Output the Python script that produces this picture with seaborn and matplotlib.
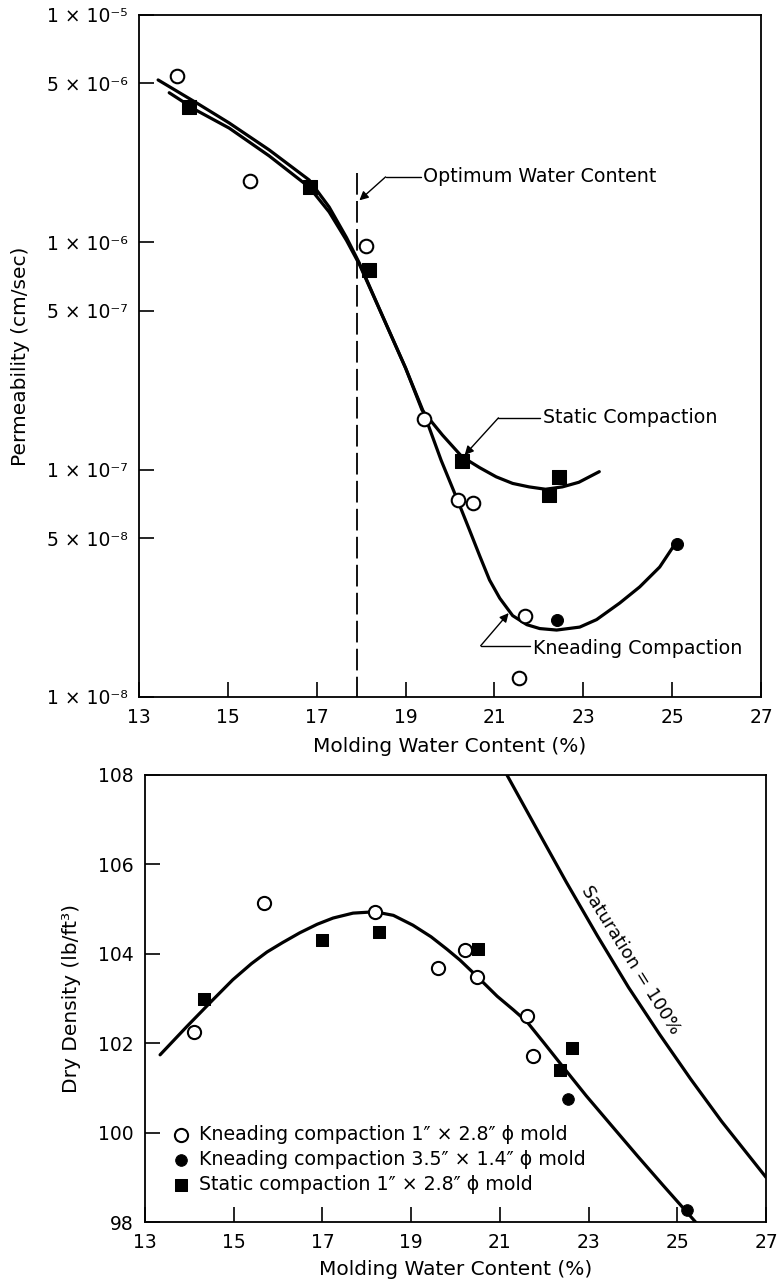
import matplotlib
matplotlib.use("Agg")
import matplotlib.pyplot as plt
import seaborn as sns

# ---------------- data: top panel (permeability) ----------------
water_ticks = [13, 15, 17, 19, 21, 23, 25, 27]
perm_ticks = [1e-8, 5e-8, 1e-7, 5e-7, 1e-6, 5e-6, 1e-5]
perm_tick_labels = ["1 × 10⁻⁸", "5 × 10⁻⁸", "1 × 10⁻⁷", "5 × 10⁻⁷",
                    "1 × 10⁻⁶", "5 × 10⁻⁶", "1 × 10⁻⁵"]

knead_open_w = [13.86, 15.5, 18.11, 19.42, 20.18, 20.52, 21.69, 21.56]
knead_open_k = [5.4e-6, 1.86e-6, 9.6e-7, 1.67e-7, 7.35e-8, 7.1e-8, 2.27e-8, 1.21e-8]
knead_fill_w = [22.41, 25.12]
knead_fill_k = [2.18e-8, 4.7e-8]
static_w = [14.13, 16.85, 18.18, 20.27, 22.23, 22.46]
static_k = [3.94e-6, 1.76e-6, 7.55e-7, 1.09e-7, 7.7e-8, 9.3e-8]

knead_curve_w = [13.43, 14.3, 15.03, 15.93, 16.83, 17.28, 17.67, 17.96, 18.5, 19.0,
                 19.4, 19.8, 20.2, 20.44, 20.67, 20.89, 21.12, 21.41, 21.73, 22.02,
                 22.4, 22.92, 23.3, 23.82, 24.27, 24.72, 25.02]
knead_curve_k = [5.18e-6, 4.1e-6, 3.35e-6, 2.55e-6, 1.88e-6, 1.43e-6, 1.05e-6, 8.1e-7,
                 4.65e-7, 2.8e-7, 1.8e-7, 1.1e-7, 7.1e-8, 5.42e-8, 4.17e-8, 3.27e-8,
                 2.72e-8, 2.28e-8, 2.08e-8, 2.0e-8, 1.97e-8, 2.03e-8, 2.19e-8,
                 2.59e-8, 3.05e-8, 3.73e-8, 4.57e-8]
static_curve_w = [13.68, 14.3, 15.03, 15.93, 16.83, 17.28, 17.67, 17.96, 18.5, 19.0,
                  19.37, 19.83, 20.27, 20.67, 21.04, 21.41, 21.78, 22.15, 22.53, 22.9,
                  23.36]
static_curve_k = [4.55e-6, 3.8e-6, 3.18e-6, 2.4e-6, 1.75e-6, 1.36e-6, 1.02e-6, 8.0e-7,
                  4.65e-7, 2.8e-7, 1.83e-7, 1.42e-7, 1.14e-7, 1.02e-7, 9.3e-8, 8.7e-8,
                  8.4e-8, 8.2e-8, 8.4e-8, 8.8e-8, 9.8e-8]
optimum_w = 17.9
optimum_k = [2.02e-6, 1e-8]

# ---------------- data: bottom panel (dry density) ----------------
density_ticks = [98, 100, 102, 104, 106, 108]
b_knead_open_w = [14.1, 15.68, 18.18, 19.6, 20.21, 20.48, 21.61, 21.75]
b_knead_open_d = [102.25, 105.14, 104.94, 103.68, 104.09, 103.48, 102.6, 101.71]
b_knead_fill_w = [22.54, 25.22]
b_knead_fill_d = [100.75, 98.27]
b_static_w = [14.33, 16.99, 18.28, 20.51, 22.36, 22.63]
b_static_d = [102.99, 104.31, 104.49, 104.1, 101.4, 101.89]

comp_curve_w = [13.34, 13.95, 14.53, 14.98, 15.4, 15.75, 16.1, 16.49, 16.88, 17.24,
                17.69, 18.18, 18.6, 19.04, 19.45, 19.81, 20.1, 20.48, 20.94, 21.3,
                21.61, 22.0, 22.36, 22.95, 23.55, 24.1, 24.68, 25.1, 25.5]
comp_curve_d = [101.74, 102.38, 102.97, 103.42, 103.78, 104.04, 104.25, 104.47, 104.66,
                104.8, 104.91, 104.94, 104.86, 104.64, 104.38, 104.1, 103.86, 103.5,
                103.05, 102.75, 102.48, 102.0, 101.55, 100.82, 100.12, 99.48, 98.82,
                98.35, 97.9]
sat_curve_w = [21.16, 21.8, 22.5, 23.2, 23.9, 24.6, 25.3, 26.0, 27.0]
sat_curve_d = [108.0, 106.85, 105.6, 104.4, 103.25, 102.2, 101.2, 100.25, 99.0]

legend_labels = ["Kneading compaction 1″ × 2.8″ ϕ mold",
                 "Kneading compaction 3.5″ × 1.4″ ϕ mold",
                 "Static compaction 1″ × 2.8″ ϕ mold"]

# ---------------- style ----------------
sns.set_theme(style="ticks")
plt.rcParams["font.family"] = ["DejaVu Sans"]
for key in ["text.color", "axes.labelcolor", "xtick.color", "ytick.color",
            "axes.edgecolor"]:
    plt.rcParams[key] = "black"
plt.rcParams["axes.linewidth"] = 1.3

W, H = 780, 1285
fig = plt.figure(figsize=(W / 100, H / 100), dpi=100)
ax1 = fig.add_axes([139 / W, 1 - 697 / H, (761 - 139) / W, (697 - 15) / H])
ax2 = fig.add_axes([145 / W, 1 - 1222 / H, (766 - 145) / W, (1222 - 775) / H])

TICK_FS = 13.5
LAB_FS = 14.5
ANN_FS = 13.7
CURVE_LW = 2.3


def style_axes(ax):
    for s in ax.spines.values():
        s.set_visible(True)
        s.set_color("black")
        s.set_linewidth(1.3)
    ax.tick_params(axis="both", which="major", direction="in", length=11,
                   width=1.2, labelsize=TICK_FS, pad=8, colors="black")
    ax.tick_params(axis="both", which="minor", length=0)
    ax.grid(False)
    ax.set_facecolor("white")


# ---------- top panel ----------
ax1.set_yscale("log")
sns.lineplot(x=knead_curve_w, y=knead_curve_k, sort=False, estimator=None,
             color="black", lw=CURVE_LW, ax=ax1, zorder=2)
sns.lineplot(x=static_curve_w, y=static_curve_k, sort=False, estimator=None,
             color="black", lw=CURVE_LW, ax=ax1, zorder=2)
ax1.plot([optimum_w, optimum_w], optimum_k, color="black", lw=1.3,
         ls=(0, (12, 3.5)), zorder=1)

sns.scatterplot(x=knead_open_w, y=knead_open_k, marker="o", s=95,
                facecolor="white", edgecolor="black", linewidth=1.5, ax=ax1, zorder=4)
sns.scatterplot(x=knead_fill_w, y=knead_fill_k, marker="o", s=75,
                color="black", edgecolor="black", ax=ax1, zorder=4)
sns.scatterplot(x=static_w, y=static_k, marker="s", s=90,
                color="black", edgecolor="black", ax=ax1, zorder=4)

ax1.set_xlim(13, 27)
ax1.set_ylim(1e-8, 1e-5)
ax1.set_xticks(water_ticks)
ax1.set_xticklabels([str(t) for t in water_ticks])
ax1.set_yticks(perm_ticks)
ax1.set_yticklabels(perm_tick_labels)
ax1.yaxis.set_minor_locator(matplotlib.ticker.NullLocator())
style_axes(ax1)
ax1.set_xlabel("Molding Water Content (%)", fontsize=LAB_FS)
ax1.set_ylabel("Permeability (cm/sec)", fontsize=LAB_FS)
ax1.xaxis.set_label_coords(0.5, -0.058)
ax1.yaxis.set_label_coords(-0.175, 0.5)

arrow_kw = dict(arrowstyle="-|>", color="black", lw=1.0, mutation_scale=13,
                shrinkA=0, shrinkB=0)
# Optimum water content
ax1.plot([18.55, 19.35], [1.94e-6, 1.94e-6], color="black", lw=1.0)
ax1.annotate("", xy=(17.96, 1.53e-6), xytext=(18.55, 1.94e-6), arrowprops=arrow_kw)
ax1.text(19.4, 1.94e-6, "Optimum Water Content", fontsize=ANN_FS,
         ha="left", va="center")
# Static compaction
ax1.plot([21.09, 22.02], [1.69e-7, 1.69e-7], color="black", lw=1.0)
ax1.annotate("", xy=(20.33, 1.16e-7), xytext=(21.09, 1.69e-7), arrowprops=arrow_kw)
ax1.text(22.09, 1.69e-7, "Static Compaction", fontsize=ANN_FS,
         ha="left", va="center")
# Kneading compaction
ax1.plot([20.69, 21.8], [1.68e-8, 1.68e-8], color="black", lw=1.0)
ax1.annotate("", xy=(21.32, 2.34e-8), xytext=(20.69, 1.68e-8), arrowprops=arrow_kw)
ax1.text(21.86, 1.64e-8, "Kneading Compaction", fontsize=ANN_FS,
         ha="left", va="center")

# ---------- bottom panel ----------
sns.lineplot(x=comp_curve_w, y=comp_curve_d, sort=False, estimator=None,
             color="black", lw=CURVE_LW, ax=ax2, zorder=2)
sns.lineplot(x=sat_curve_w, y=sat_curve_d, sort=False, estimator=None,
             color="black", lw=CURVE_LW, ax=ax2, zorder=2)
sns.scatterplot(x=b_knead_open_w, y=b_knead_open_d, marker="o", s=90,
                facecolor="white", edgecolor="black", linewidth=1.5, ax=ax2,
                zorder=4, label=legend_labels[0])
sns.scatterplot(x=b_knead_fill_w, y=b_knead_fill_d, marker="o", s=70,
                color="black", edgecolor="black", ax=ax2, zorder=4,
                label=legend_labels[1])
sns.scatterplot(x=b_static_w, y=b_static_d, marker="s", s=85,
                color="black", edgecolor="black", ax=ax2, zorder=4,
                label=legend_labels[2])

ax2.set_xlim(13, 27)
ax2.set_ylim(98, 108)
ax2.set_xticks(water_ticks)
ax2.set_xticklabels([str(t) for t in water_ticks])
ax2.set_yticks(density_ticks)
ax2.set_yticklabels([str(t) for t in density_ticks])
style_axes(ax2)
ax2.set_xlabel("Molding Water Content (%)", fontsize=LAB_FS)
ax2.set_ylabel("Dry Density (lb/ft³)", fontsize=LAB_FS)
ax2.xaxis.set_label_coords(0.5, -0.085)
ax2.yaxis.set_label_coords(-0.103, 0.5)

ax2.text(23.95, 103.86, "Saturation = 100%", fontsize=13, rotation=-58,
         rotation_mode="anchor", ha="center", va="center")

leg = ax2.legend(loc="lower left", bbox_to_anchor=(0.031, 0.045), frameon=False,
                 fontsize=13.7, handletextpad=0.45, labelspacing=0.33,
                 borderaxespad=0, handlelength=1.0)

fig.savefig("out.png", dpi=100, facecolor="white")
